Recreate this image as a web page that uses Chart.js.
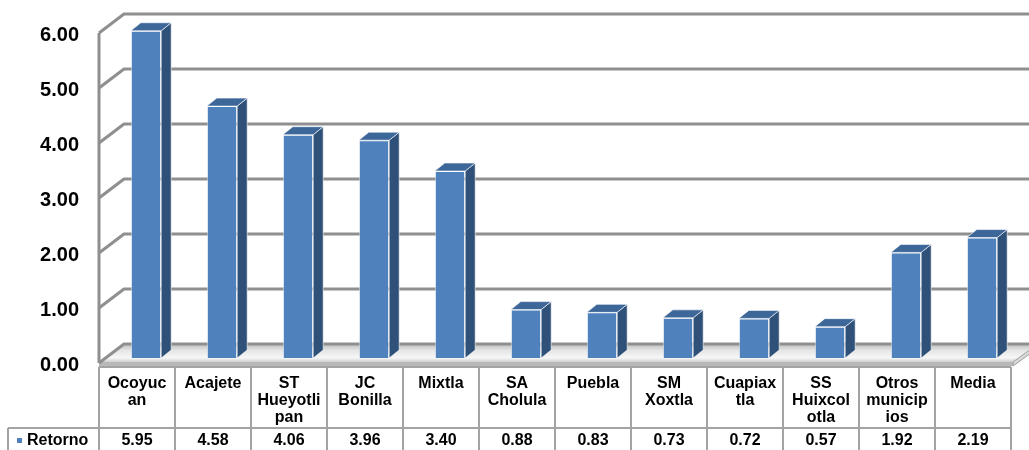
<!DOCTYPE html>
<html><head><meta charset="utf-8">
<script src="https://cdn.jsdelivr.net/npm/chart.js@4.4.1/dist/chart.umd.min.js"></script>
<style>html,body{margin:0;padding:0;background:#fff;}#wrap{width:1029px;height:450px;}</style>
</head><body><div id="wrap"><canvas id="c" width="1029" height="450"></canvas></div>
<script>
const categories = [["Ocoyuc","an"],["Acajete"],["ST","Hueyotli","pan"],["JC","Bonilla"],["Mixtla"],["SA","Cholula"],["Puebla"],["SM","Xoxtla"],["Cuapiax","tla"],["SS","Huixcol","otla"],["Otros","municip","ios"],["Media"]];
const seriesName = "Retorno";
const retorno = [5.95, 4.58, 4.06, 3.96, 3.40, 0.88, 0.83, 0.73, 0.72, 0.57, 1.92, 2.19];
const yTicks = [0, 1, 2, 3, 4, 5, 6];

const FONT = '"Liberation Sans", Arial, Helvetica, sans-serif';
const FRONT = '#4F81BD', SIDE = '#2F5079', TOP = '#3D6699';
const BAR_SHIFT = {x: 9, y: -7};
const DEPTH = {x: 10, y: -8};
const WALL = {x: 25, y: -21};
const GRID = '#8f8f8f';

Chart.defaults.font.family = FONT;

const fake3d = {
  id: 'fake3d',
  beforeDatasetsDraw(chart) {
    const {ctx, chartArea: a, scales: {y}} = chart;
    const y0 = y.getPixelForValue(0);
    ctx.save();
    // floor
    const fl = a.left, fr = a.right + 2, fy = y0 - 3;
    const g = ctx.createLinearGradient(0, fy + WALL.y, 0, fy);
    g.addColorStop(0, '#a9a9a9');
    g.addColorStop(0.45, '#e6e6e6');
    g.addColorStop(0.8, '#f7f7f7');
    g.addColorStop(1, '#d0d0d0');
    ctx.beginPath();
    ctx.moveTo(fl, fy); ctx.lineTo(fl + WALL.x, fy + WALL.y + 3);
    ctx.lineTo(fr + WALL.x, fy + WALL.y + 3); ctx.lineTo(fr, fy); ctx.closePath();
    ctx.fillStyle = g; ctx.fill();
    // floor slab front + right
    ctx.fillStyle = '#b8b8b8';
    ctx.fillRect(fl, fy, fr - fl, 4);
    ctx.beginPath();
    ctx.moveTo(fr, fy); ctx.lineTo(fr + WALL.x, fy + WALL.y + 3);
    ctx.lineTo(fr + WALL.x, fy + WALL.y + 7); ctx.lineTo(fr, fy + 4); ctx.closePath();
    ctx.fillStyle = '#d8d8d8'; ctx.fill();
    ctx.strokeStyle = '#a0a0a0'; ctx.lineWidth = 1; ctx.stroke();
    // walls gridlines
    ctx.strokeStyle = GRID; ctx.lineWidth = 3; ctx.lineJoin = 'round';
    yTicks.forEach(v => {
      const py = y.getPixelForValue(v);
      ctx.beginPath();
      ctx.moveTo(a.left, py - 2);
      ctx.lineTo(a.left + WALL.x, py + WALL.y);
      ctx.lineTo(chart.width + 2, py + WALL.y);
      ctx.stroke();
    });
    // left wall front edge
    ctx.beginPath();
    ctx.moveTo(a.left, y.getPixelForValue(yTicks[yTicks.length - 1]) - 2);
    ctx.lineTo(a.left, y0 - 2);
    ctx.stroke();
    ctx.restore();
    ctx.save();
    ctx.translate(BAR_SHIFT.x, BAR_SHIFT.y);
  },
  afterDatasetsDraw(chart) {
    const ctx = chart.ctx;
    const meta = chart.getDatasetMeta(0);
    meta.data.forEach(bar => {
      const {x, y, base, width} = bar.getProps(['x', 'y', 'base', 'width'], true);
      const l = x - width / 2, r = x + width / 2;
      ctx.lineWidth = 1;
      ctx.strokeStyle = 'rgba(255,255,255,0.6)';
      ctx.beginPath();
      ctx.moveTo(r, y); ctx.lineTo(r + DEPTH.x, y + DEPTH.y);
      ctx.lineTo(r + DEPTH.x, base + DEPTH.y); ctx.lineTo(r, base); ctx.closePath();
      ctx.fillStyle = SIDE; ctx.fill(); ctx.stroke();
      ctx.beginPath();
      ctx.moveTo(l, y); ctx.lineTo(l + DEPTH.x, y + DEPTH.y);
      ctx.lineTo(r + DEPTH.x, y + DEPTH.y); ctx.lineTo(r, y); ctx.closePath();
      ctx.fillStyle = TOP; ctx.fill(); ctx.stroke();
    });
    ctx.restore();
  },
  afterDraw(chart) {
    const {ctx, chartArea: a, scales: {x, y}} = chart;
    const n = categories.length;
    const b = [];
    for (let i = 0; i <= n; i++) {
      b.push(i === 0 ? a.left : i === n ? a.right : (x.getPixelForTick(i - 1) + x.getPixelForTick(i)) / 2);
    }
    const y0 = y.getPixelForValue(0);
    const top = y0 + 2, mid = y0 + 63, bottom = chart.height + 2, leftCell = 8;
    ctx.save();
    ctx.strokeStyle = '#a3a3a3'; ctx.lineWidth = 2;
    ctx.beginPath();
    ctx.moveTo(b[0], top); ctx.lineTo(b[n], top);
    ctx.moveTo(leftCell, mid); ctx.lineTo(b[n], mid);
    b.forEach(px => { ctx.moveTo(px, top); ctx.lineTo(px, bottom); });
    ctx.moveTo(leftCell, mid); ctx.lineTo(leftCell, bottom);
    ctx.stroke();
    ctx.fillStyle = '#000';
    ctx.font = 'bold 16px ' + FONT;
    ctx.textAlign = 'center'; ctx.textBaseline = 'middle';
    retorno.forEach((v, i) => ctx.fillText(v.toFixed(2), x.getPixelForTick(i), mid + 13));
    ctx.fillStyle = FRONT;
    ctx.fillRect(leftCell + 9, mid + 10, 5, 5);
    ctx.fillStyle = '#000';
    ctx.textAlign = 'left';
    ctx.fillText(chart.data.datasets[0].label, leftCell + 19, mid + 13);
    ctx.restore();
  }
};

new Chart(document.getElementById('c'), {
  type: 'bar',
  data: {
    labels: categories,
    datasets: [{
      label: seriesName,
      data: retorno,
      backgroundColor: FRONT,
      borderColor: 'rgba(255,255,255,0.6)',
      borderWidth: 1,
      categoryPercentage: 0.8,
      barPercentage: 0.5,
      clip: false
    }]
  },
  options: {
    responsive: false,
    animation: false,
    layout: {padding: {top: 35, right: 18, left: 0, bottom: 0}},
    plugins: {legend: {display: false}, tooltip: {enabled: false}},
    scales: {
      x: {
        grid: {display: false, drawTicks: false},
        border: {display: false},
        ticks: {
          color: '#000', font: {size: 16, weight: 'bold', lineHeight: 1.06},
          padding: 10, maxRotation: 0, minRotation: 0, autoSkip: false
        },
        afterFit(s) { s.height = 85; }
      },
      y: {
        min: 0, max: 6,
        afterBuildTicks(s) { s.ticks = yTicks.map(v => ({value: v})); },
        grid: {display: false, drawTicks: false},
        border: {display: false},
        ticks: {
          color: '#000', font: {size: 20, weight: 'bold'}, padding: 20,
          callback: v => Number(v).toFixed(2)
        },
        afterFit(s) { s.width = 99; }
      }
    }
  },
  plugins: [fake3d]
});
</script>
</body></html>
